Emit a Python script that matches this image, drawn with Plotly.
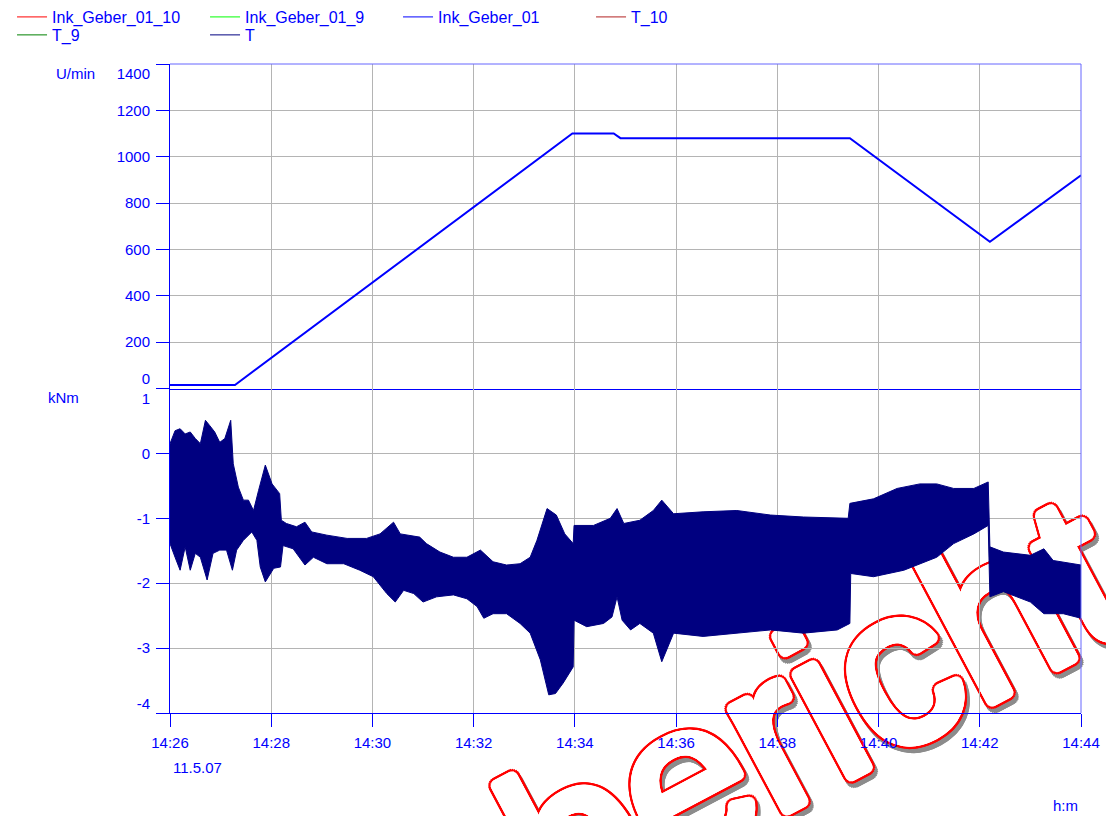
import math
import plotly.graph_objects as go

DAY = "2007-05-11 "

# Drehzahl (U/min) – Ink_Geber_01
speed_times = ["14:26:00", "14:27:17", "14:33:57", "14:34:46", "14:34:54",
               "14:39:26", "14:42:12", "14:44:00"]
speed_values = [15, 15, 1100, 1100, 1080, 1080, 633, 920]

# Drehmoment T (kNm) – obere und untere Hüllkurve des Signals
torque_upper_times = [
    "14:26:00", "14:26:06", "14:26:12", "14:26:18", "14:26:24", "14:26:30", "14:26:36",
    "14:26:42", "14:26:47", "14:26:53", "14:26:59", "14:27:05", "14:27:12", "14:27:15",
    "14:27:21", "14:27:27", "14:27:33", "14:27:39", "14:27:45", "14:27:53", "14:28:01",
    "14:28:10", "14:28:12", "14:28:18", "14:28:30", "14:28:40", "14:28:48", "14:29:06",
    "14:29:30", "14:29:53", "14:30:09", "14:30:25", "14:30:33", "14:30:56", "14:31:04",
    "14:31:20", "14:31:36", "14:31:52", "14:32:08", "14:32:23", "14:32:39", "14:32:55",
    "14:33:07", "14:33:15", "14:33:27", "14:33:38", "14:33:48", "14:33:58", "14:33:59",
    "14:34:22", "14:34:42", "14:34:50", "14:34:58", "14:35:17", "14:35:33", "14:35:43",
    "14:35:57", "14:36:32", "14:37:12", "14:37:52", "14:38:31", "14:39:24", "14:39:26",
    "14:39:54", "14:40:22", "14:40:49", "14:41:09", "14:41:29", "14:41:53", "14:42:10",
    "14:42:12", "14:42:28", "14:43:00", "14:43:16", "14:43:27", "14:44:00"]
torque_upper = [
    0.15, 0.35, 0.38, 0.30, 0.33, 0.23, 0.15,
    0.51, 0.43, 0.33, 0.17, 0.23, 0.51, -0.16,
    -0.52, -0.72, -0.72, -0.88, -0.57, -0.18, -0.47,
    -0.62, -1.03, -1.08, -1.13, -1.06, -1.21, -1.26,
    -1.31, -1.31, -1.24, -1.06, -1.24, -1.29, -1.39,
    -1.52, -1.60, -1.60, -1.49, -1.67, -1.72, -1.70,
    -1.60, -1.34, -0.85, -0.95, -1.24, -1.39, -1.11,
    -1.11, -1.00, -0.85, -1.08, -1.03, -0.88, -0.72,
    -0.93, -0.90, -0.88, -0.95, -0.98, -1.00, -0.77,
    -0.70, -0.54, -0.47, -0.47, -0.54, -0.54, -0.44,
    -1.44, -1.52, -1.57, -1.47, -1.65, -1.72]

torque_lower_times = [
    "14:26:00", "14:26:06", "14:26:12", "14:26:18", "14:26:24", "14:26:30", "14:26:36",
    "14:26:44", "14:26:51", "14:26:59", "14:27:07", "14:27:14", "14:27:19", "14:27:27",
    "14:27:37", "14:27:43", "14:27:47", "14:27:53", "14:28:03", "14:28:11", "14:28:14",
    "14:28:26", "14:28:40", "14:28:50", "14:29:06", "14:29:26", "14:29:45", "14:30:01",
    "14:30:17", "14:30:27", "14:30:37", "14:30:49", "14:31:00", "14:31:16", "14:31:36",
    "14:31:52", "14:32:04", "14:32:12", "14:32:23", "14:32:39", "14:32:55", "14:33:07",
    "14:33:19", "14:33:29", "14:33:37", "14:33:46", "14:33:58", "14:33:59", "14:34:14",
    "14:34:34", "14:34:44", "14:34:50", "14:34:56", "14:35:06", "14:35:17", "14:35:33",
    "14:35:43", "14:35:57", "14:36:32", "14:37:12", "14:37:52", "14:38:31", "14:39:11",
    "14:39:26", "14:39:27", "14:39:54", "14:40:30", "14:41:09", "14:41:29", "14:41:53",
    "14:42:10", "14:42:12", "14:42:28", "14:43:00", "14:43:16", "14:43:39", "14:44:00"]
torque_lower = [
    -1.39, -1.60, -1.80, -1.44, -1.80, -1.54, -1.60,
    -1.95, -1.54, -1.49, -1.49, -1.80, -1.49, -1.34,
    -1.21, -1.34, -1.75, -1.98, -1.77, -1.75, -1.42,
    -1.47, -1.72, -1.60, -1.70, -1.70, -1.80, -1.90,
    -2.16, -2.29, -2.11, -2.16, -2.29, -2.21, -2.18,
    -2.24, -2.36, -2.54, -2.47, -2.47, -2.62, -2.77,
    -3.18, -3.72, -3.70, -3.54, -3.29, -2.57, -2.67,
    -2.62, -2.52, -2.21, -2.57, -2.72, -2.62, -2.77,
    -3.21, -2.77, -2.82, -2.77, -2.72, -2.77, -2.72,
    -2.62, -1.85, -1.90, -1.80, -1.60, -1.39, -1.24,
    -1.11, -2.21, -2.13, -2.29, -2.47, -2.47, -2.54]

legend_row1 = ["Ink_Geber_01_10", "Ink_Geber_01_9", "Ink_Geber_01", "T_10"]
legend_row1_colors = ["#ff0000", "#00ff00", "#0000ff", "#b22222"]
legend_row2 = ["T_9", "T"]
legend_row2_colors = ["#008000", "#000080"]

speed_tickvals = [0, 200, 400, 600, 800, 1000, 1200, 1400]
speed_ticktext = ["0<br> ", "200", "400", "600", "800", "1000", "1200", " <br>1400"]
torque_tickvals = [-4, -3, -2, -1, 0, 1]
torque_ticktext = ["-4<br> ", "-3", "-2", "-1", "0", " <br>1"]
time_tickvals = ["14:26", "14:28", "14:30", "14:32", "14:34", "14:36",
                 "14:38", "14:40", "14:42", "14:44"]

BLUE = "#0000ff"
GRID = "#b4b4b4"
FONT = "Liberation Sans, Arial, sans-serif"

fig = go.Figure()

# legend entries
for name, col in zip(legend_row1, legend_row1_colors):
    fig.add_trace(go.Scatter(x=[None], y=[None], mode="lines", name=name,
                             line=dict(color=col, width=1), legend="legend",
                             xaxis="x2", yaxis="y2"))
for name, col in zip(legend_row2, legend_row2_colors):
    fig.add_trace(go.Scatter(x=[None], y=[None], mode="lines", name=name,
                             line=dict(color=col, width=1), legend="legend2",
                             xaxis="x2", yaxis="y2"))

# torque band
band_x = [DAY + t for t in torque_upper_times] + [DAY + t for t in reversed(torque_lower_times)]
band_y = list(torque_upper) + list(reversed(torque_lower))
fig.add_trace(go.Scatter(x=band_x, y=band_y, mode="lines", fill="toself",
                         fillcolor="#000080", line=dict(color="#000080", width=1),
                         showlegend=False, xaxis="x2", yaxis="y2", hoverinfo="skip"))

# speed line
fig.add_trace(go.Scatter(x=[DAY + t for t in speed_times], y=speed_values, mode="lines",
                         line=dict(color=BLUE, width=2), showlegend=False,
                         xaxis="x", yaxis="y"))

tickfont = dict(family=FONT, size=15, color=BLUE)
xrange = [DAY + time_tickvals[0], DAY + time_tickvals[-1]]

# watermark styling: thickened white glyph, red outline, grey drop shadow
def ring(radius, color, ox=0.0, oy=0.0, n=24):
    return [f"{ox + radius * math.cos(2 * math.pi * k / n):.2f}px "
            f"{oy + radius * math.sin(2 * math.pi * k / n):.2f}px 0px {color}"
            for k in range(n)]

shadow = ", ".join(ring(5, "#ffffff") + ring(7.5, "#ff0000") + ring(7.5, "#8c8c8c", 0.5, 5))

legfont = dict(family=FONT, size=16, color=BLUE)

fig.update_layout(
    width=1106, height=816, autosize=False,
    margin=dict(l=170, r=25, t=64, b=103, autoexpand=False),
    paper_bgcolor="white", plot_bgcolor="rgba(0,0,0,0)",
    font=dict(family=FONT, size=15, color=BLUE),
    xaxis=dict(domain=[0, 1], anchor="y", type="date", range=xrange, matches="x2",
               tickvals=[DAY + t for t in time_tickvals], showticklabels=False,
               showgrid=True, gridcolor=GRID, gridwidth=1, ticks="",
               showline=True, linecolor=BLUE, linewidth=1, zeroline=False),
    yaxis=dict(domain=[0.5, 1], anchor="x", range=[0, 1400],
               tickvals=speed_tickvals, ticktext=speed_ticktext, tickfont=tickfont,
               ticks="outside", ticklen=13, tickcolor=BLUE, tickwidth=1,
               ticklabelstandoff=3,
               showgrid=True, gridcolor=GRID, gridwidth=1, zeroline=False,
               showline=True, linecolor=BLUE, linewidth=1),
    xaxis2=dict(domain=[0, 1], anchor="y2", type="date", range=xrange,
                tickvals=[DAY + t for t in time_tickvals], tickformat="%H:%M",
                tickfont=tickfont, ticks="outside", ticklen=13, tickcolor=BLUE,
                ticklabelstandoff=3,
                showgrid=True, gridcolor=GRID, gridwidth=1, zeroline=False,
                showline=True, linecolor=BLUE, linewidth=1),
    yaxis2=dict(domain=[0, 0.5], anchor="x2", range=[-4, 1],
                tickvals=torque_tickvals, ticktext=torque_ticktext, tickfont=tickfont,
                ticks="outside", ticklen=13, tickcolor=BLUE, tickwidth=1,
                ticklabelstandoff=3,
                showgrid=True, gridcolor=GRID, gridwidth=1, zeroline=False,
                showline=True, linecolor=BLUE, linewidth=1),
    legend=dict(orientation="h", x=-0.1734, xanchor="left", y=1.0986, yanchor="top",
                entrywidth=148, entrywidthmode="pixels", bgcolor="rgba(0,0,0,0)",
                font=legfont, tracegroupgap=0),
    legend2=dict(orientation="h", x=-0.1734, xanchor="left", y=1.0709, yanchor="top",
                 entrywidth=148, entrywidthmode="pixels", bgcolor="rgba(0,0,0,0)",
                 font=legfont, tracegroupgap=0),
    shapes=[
        dict(type="line", xref="paper", yref="paper", x0=0, x1=1, y0=1, y1=1,
             line=dict(color="#6666ff", width=1)),
        dict(type="line", xref="paper", yref="paper", x0=1, x1=1, y0=0, y1=1,
             line=dict(color="#6666ff", width=1)),
        dict(type="rect", xref="paper", yref="paper", x0=0.685, x1=0.705, y0=0.022, y1=0.042,
             layer="below", line=dict(width=0), fillcolor="rgba(0,0,0,0)",
             label=dict(text="bericht", textangle=-28, textposition="middle center",
                        font=dict(family="Liberation Sans Narrow, Liberation Sans",
                                  size=220, color="white", shadow=shadow))),
    ],
    annotations=[
        dict(text="U/min", xref="paper", yref="paper", x=-0.1032, y=0.9846,
             xanchor="center", yanchor="middle", showarrow=False,
             font=dict(family=FONT, size=15, color=BLUE)),
        dict(text="kNm", xref="paper", yref="paper", x=-0.1164, y=0.4869,
             xanchor="center", yanchor="middle", showarrow=False,
             font=dict(family=FONT, size=15, color=BLUE)),
        dict(text="11.5.07", xref="paper", yref="paper", x=0.001, y=-0.0847,
             xanchor="left", yanchor="middle", showarrow=False,
             font=dict(family=FONT, size=15, color=BLUE)),
        dict(text="h:m", xref="paper", yref="paper", x=0.999, y=-0.1418,
             xanchor="right", yanchor="middle", showarrow=False,
             font=dict(family=FONT, size=15, color=BLUE)),
    ],
)

fig.write_html("out.html")
